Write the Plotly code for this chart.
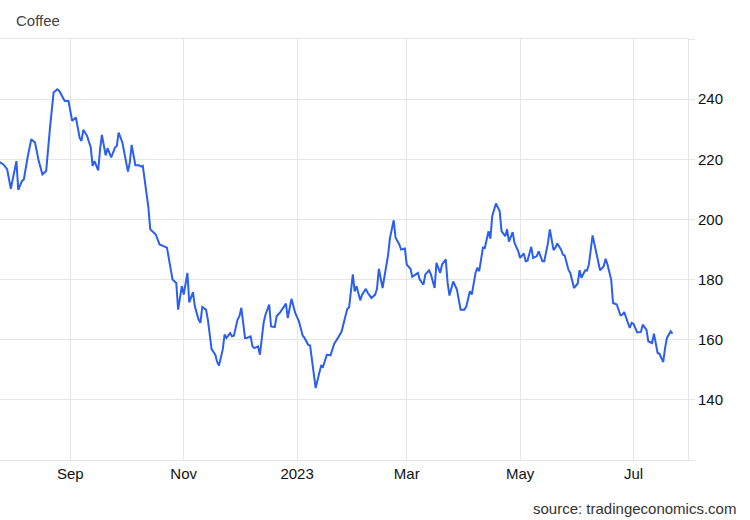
import plotly.graph_objects as go

dates = [
    "2022-07-25", "2022-07-27", "2022-07-29", "2022-07-31", "2022-08-03", "2022-08-04",
    "2022-08-06", "2022-08-07", "2022-08-09", "2022-08-11", "2022-08-13", "2022-08-15",
    "2022-08-17", "2022-08-19", "2022-08-21", "2022-08-23", "2022-08-25", "2022-08-26",
    "2022-08-29", "2022-08-31",
    "2022-09-02", "2022-09-04", "2022-09-06", "2022-09-07", "2022-09-08", "2022-09-10",
    "2022-09-12", "2022-09-13", "2022-09-14", "2022-09-16", "2022-09-17", "2022-09-18",
    "2022-09-20", "2022-09-21", "2022-09-23", "2022-09-25", "2022-09-26", "2022-09-27",
    "2022-09-29", "2022-10-02", "2022-10-03", "2022-10-04", "2022-10-06", "2022-10-08",
    "2022-10-09", "2022-10-10", "2022-10-13", "2022-10-14", "2022-10-17", "2022-10-19",
    "2022-10-23", "2022-10-24", "2022-10-26", "2022-10-28", "2022-10-29", "2022-10-31",
    "2022-11-01", "2022-11-03", "2022-11-04", "2022-11-06", "2022-11-07", "2022-11-09",
    "2022-11-10", "2022-11-11", "2022-11-13", "2022-11-14", "2022-11-16", "2022-11-18",
    "2022-11-19", "2022-11-20", "2022-11-22", "2022-11-23", "2022-11-24", "2022-11-26",
    "2022-11-27", "2022-11-28", "2022-11-30", "2022-12-01", "2022-12-02", "2022-12-04",
    "2022-12-05", "2022-12-07", "2022-12-08", "2022-12-09", "2022-12-11", "2022-12-12",
    "2022-12-14", "2022-12-15", "2022-12-17", "2022-12-18", "2022-12-20", "2022-12-21",
    "2022-12-23", "2022-12-26", "2022-12-27", "2022-12-29", "2022-12-31",
    "2023-01-02", "2023-01-04", "2023-01-05", "2023-01-07", "2023-01-08", "2023-01-11",
    "2023-01-13", "2023-01-14", "2023-01-15", "2023-01-17", "2023-01-19", "2023-01-21",
    "2023-01-23", "2023-01-25", "2023-01-27", "2023-01-28", "2023-01-29", "2023-01-31",
    "2023-02-01", "2023-02-02", "2023-02-04", "2023-02-05", "2023-02-07", "2023-02-08",
    "2023-02-10", "2023-02-12", "2023-02-13", "2023-02-14", "2023-02-16", "2023-02-17",
    "2023-02-19", "2023-02-20", "2023-02-22", "2023-02-23", "2023-02-25", "2023-02-26",
    "2023-02-28",
    "2023-03-01", "2023-03-03", "2023-03-04", "2023-03-06", "2023-03-07", "2023-03-08",
    "2023-03-10", "2023-03-11", "2023-03-13", "2023-03-14", "2023-03-16", "2023-03-17",
    "2023-03-19", "2023-03-20", "2023-03-22", "2023-03-23", "2023-03-24", "2023-03-26",
    "2023-03-28", "2023-03-29", "2023-03-30", "2023-04-01", "2023-04-02", "2023-04-04",
    "2023-04-05", "2023-04-07", "2023-04-08", "2023-04-09", "2023-04-11", "2023-04-12",
    "2023-04-14", "2023-04-15", "2023-04-16", "2023-04-18", "2023-04-20", "2023-04-21",
    "2023-04-23", "2023-04-24", "2023-04-25", "2023-04-27", "2023-04-28", "2023-04-30",
    "2023-05-01", "2023-05-03", "2023-05-04", "2023-05-05", "2023-05-07", "2023-05-08",
    "2023-05-10", "2023-05-11", "2023-05-13", "2023-05-14", "2023-05-16", "2023-05-17",
    "2023-05-19", "2023-05-20", "2023-05-21", "2023-05-23", "2023-05-24", "2023-05-25",
    "2023-05-27", "2023-05-28", "2023-05-30", "2023-06-01", "2023-06-02", "2023-06-03",
    "2023-06-05", "2023-06-06", "2023-06-07", "2023-06-09", "2023-06-10", "2023-06-12",
    "2023-06-13", "2023-06-15", "2023-06-16", "2023-06-17", "2023-06-19", "2023-06-20",
    "2023-06-22", "2023-06-24", "2023-06-25", "2023-06-26", "2023-06-28", "2023-06-29",
    "2023-06-30",
    "2023-07-01", "2023-07-03", "2023-07-05", "2023-07-06", "2023-07-08", "2023-07-09",
    "2023-07-11", "2023-07-12", "2023-07-14", "2023-07-15", "2023-07-17", "2023-07-18",
    "2023-07-19", "2023-07-21", "2023-07-22",
]

prices = [
    219.1, 218.3, 216.7, 210.2, 219.4, 209.8,
    212.8, 213.3, 220.6, 226.7, 225.6, 219.4,
    215.0, 216.1, 230.0, 242.2, 243.3, 242.8,
    239.4, 239.4,
    232.8, 233.9, 227.2, 226.1, 229.8, 227.8,
    223.9, 217.8, 219.4, 216.3, 223.3, 228.1,
    221.3, 223.7, 220.6, 223.9, 224.4, 228.9,
    225.6, 215.9, 218.9, 224.8, 218.0, 218.0,
    217.6, 217.8, 204.0, 196.7, 195.0, 191.7,
    190.6, 186.7, 180.0, 178.9, 170.0, 177.8,
    175.0, 182.2, 172.4, 175.8, 171.1, 166.7,
    165.6, 170.9, 170.0, 166.7, 156.9, 155.0,
    152.6, 151.4, 156.7, 161.7, 160.6, 162.2,
    161.1, 161.3, 166.7, 167.8, 170.6, 160.6,
    160.6, 161.1, 157.8, 157.2, 157.8, 155.0,
    165.6, 168.3, 171.7, 164.4, 164.2, 167.8,
    169.2, 172.0, 167.2, 173.6, 168.9,
    166.1, 161.4, 160.6, 158.3, 158.1, 143.9,
    149.1, 151.4, 151.1, 155.0, 154.8, 158.7,
    160.6, 162.8, 167.8, 170.2, 170.8, 181.7,
    176.1, 177.8, 173.1, 175.0, 176.9, 175.6,
    173.9, 175.0, 176.9, 183.6, 177.2, 180.9,
    188.3, 193.9, 199.7, 193.9, 191.7, 190.0,
    190.3,
    185.0, 183.6, 180.9, 181.9, 182.2, 180.0,
    178.3, 181.7, 183.1, 181.7, 177.2, 185.6,
    182.2, 185.0, 186.7, 178.9, 174.7, 179.4,
    176.7, 173.3, 170.0, 170.0, 170.9, 176.1,
    175.0, 182.2, 183.9, 182.8, 190.6, 190.5,
    196.1, 193.6, 201.1, 205.3, 202.8, 196.1,
    194.4, 196.7, 192.6, 195.8, 192.2, 189.4,
    187.2, 188.7, 186.1, 186.3, 190.9, 187.2,
    187.8, 189.4, 186.1, 186.1, 192.2, 196.7,
    189.8, 190.6, 192.0, 190.0, 188.3, 188.0,
    183.3, 182.2, 177.2, 178.7, 183.1, 180.6,
    183.1, 183.0, 185.0, 194.7, 191.7, 186.1,
    183.1, 184.4, 186.9, 185.0, 180.0, 172.2,
    171.7, 168.1, 168.3, 169.2, 165.8, 163.9,
    165.6,
    165.3, 162.4, 162.6, 165.0, 163.3, 159.4,
    158.9, 162.0, 155.6, 155.3, 152.6, 157.2,
    160.6, 162.8, 162.0,
]

x_tick_vals = ["2022-09-01", "2022-11-01", "2023-01-01", "2023-03-01", "2023-05-01", "2023-07-01"]
x_tick_text = ["Sep", "Nov", "2023", "Mar", "May", "Jul"]
y_tick_vals = [120, 140, 160, 180, 200, 220, 240, 260]
y_tick_text = ["", "140", "160", "180", "200", "220", "240", ""]

FONT = "Arial, Liberation Sans, sans-serif"
GRID = "#e6e6e6"

fig = go.Figure()
fig.add_trace(go.Scatter(
    x=dates, y=prices, mode="lines",
    line=dict(color="#2a5fef", width=2),
    hoverinfo="skip", showlegend=False,
))

fig.update_layout(
    width=750, height=520,
    margin=dict(l=0, r=62, t=39, b=60),
    paper_bgcolor="white", plot_bgcolor="white",
    font=dict(family=FONT, size=15, color="#111"),
    xaxis=dict(
        type="date",
        range=["2022-07-25 04:00", "2023-07-30 08:00"],
        tickmode="array", tickvals=x_tick_vals, ticktext=x_tick_text,
        showgrid=True, gridcolor=GRID, gridwidth=1,
        showline=True, linecolor=GRID, linewidth=1, mirror=True,
        ticks="", tickfont=dict(size=15, color="#111"),
        zeroline=False,
    ),
    yaxis=dict(
        side="right",
        range=[120, 260],
        tickmode="array", tickvals=y_tick_vals, ticktext=y_tick_text,
        showgrid=True, gridcolor=GRID, gridwidth=1,
        showline=True, linecolor=GRID, linewidth=1,
        ticks="outside", ticklen=6, tickcolor=GRID,
        tickfont=dict(size=15, color="#111"),
        zeroline=False,
    ),
    annotations=[
        dict(text="Coffee", xref="paper", yref="paper",
             x=14 / 688, y=(460 - 20) / 421, xanchor="left", yanchor="middle",
             showarrow=False, font=dict(family=FONT, size=15, color="#444")),
        dict(text="source: tradingeconomics.com", xref="paper", yref="paper",
             x=738 / 688, y=(460 - 508) / 421, xanchor="right", yanchor="middle",
             showarrow=False, font=dict(family=FONT, size=15, color="#333")),
    ],
)

fig.write_html("out.html", config={"displayModeBar": False},
               post_script="document.body.style.margin='0';")
